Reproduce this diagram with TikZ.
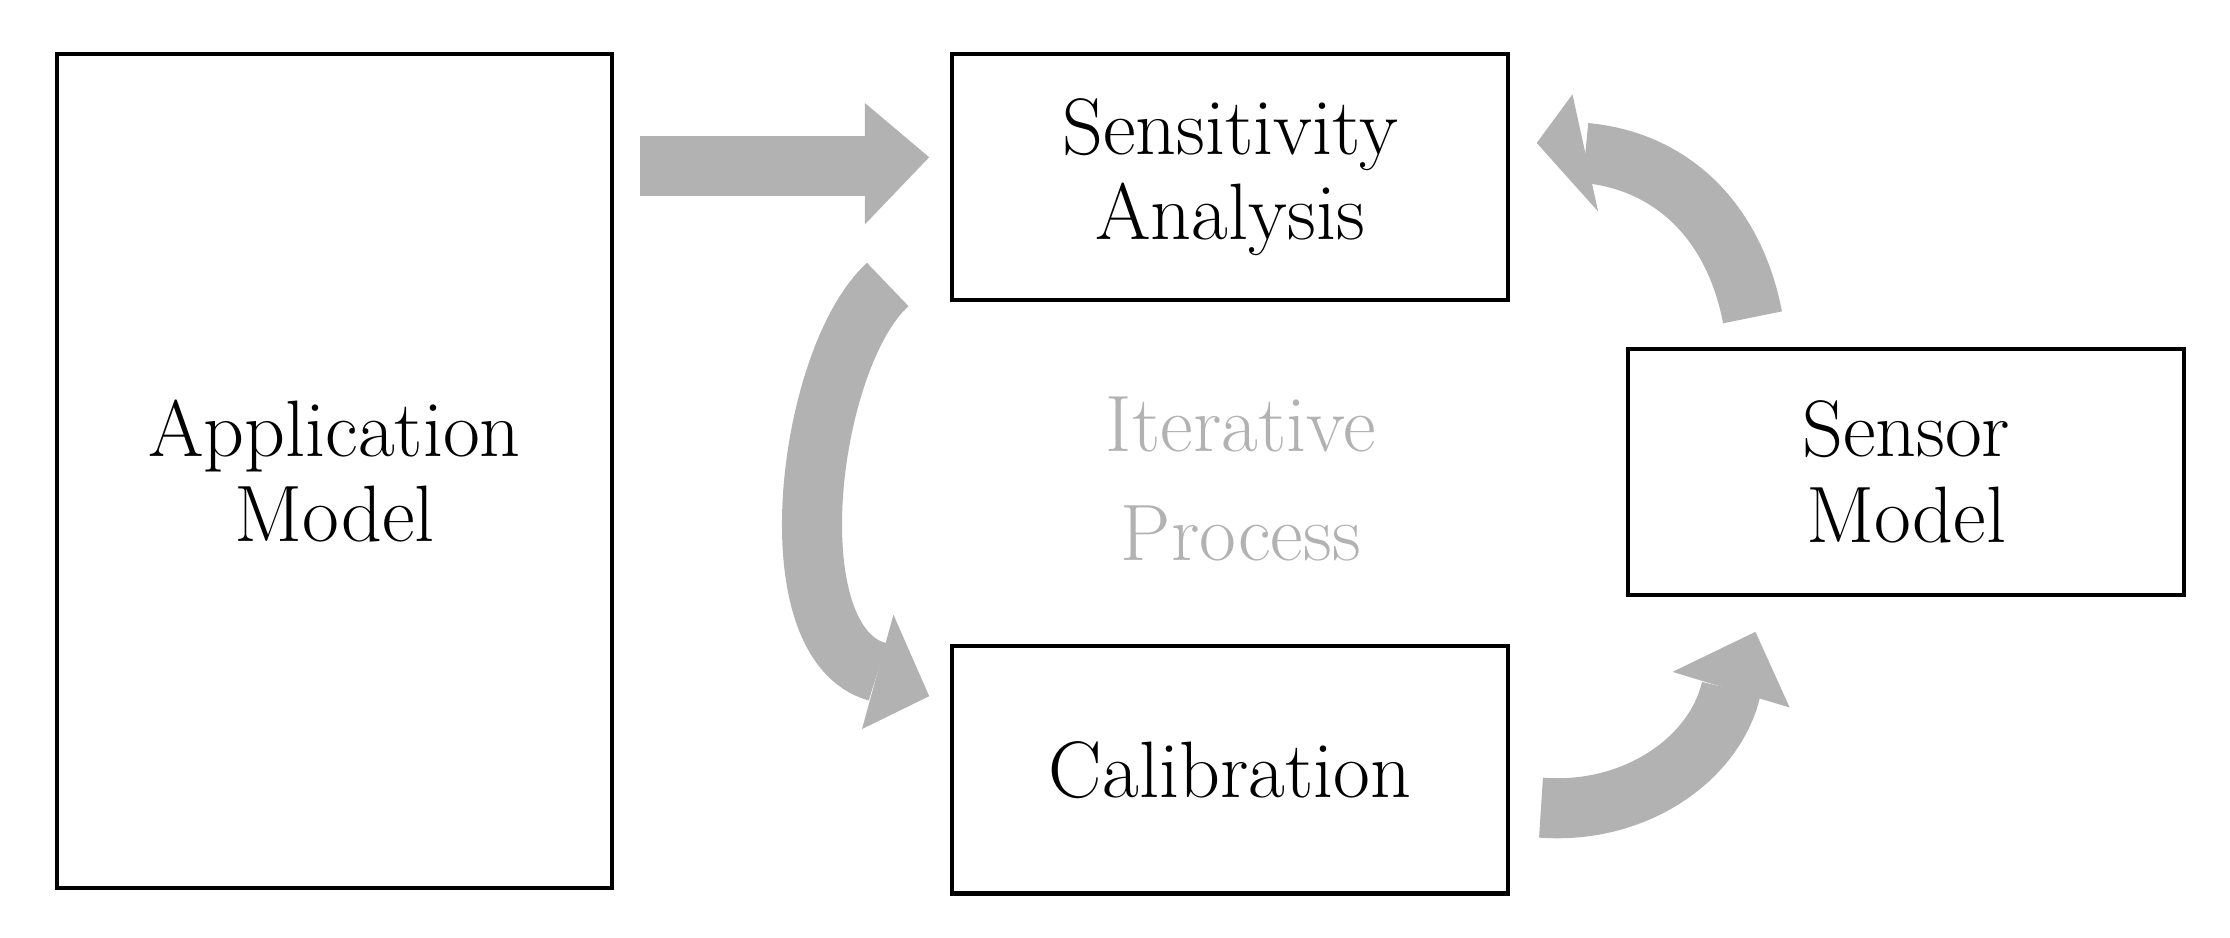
\documentclass[tikz,border=0pt]{standalone}
\begin{document}
\begin{tikzpicture}[x=1pt,y=-1pt,
  box/.style={draw=black,line width=3pt,align=center,font=\fontsize{56}{60}\selectfont},
  txt/.style={align=center,font=\fontsize{56}{76}\selectfont},
  shaft/.style={draw=arrgray,line width=42pt},
  head/.style={fill=arrgray}]
\definecolor{arrgray}{RGB}{178,178,178}
\useasboundingbox (0,0) rectangle (1560,656);
\node[box,minimum width=388pt,minimum height=583pt] (app) at (234,329.5) {Application\\Model};
\node[box,minimum width=389pt,minimum height=172pt] (sens) at (860.5,124) {Sensitivity\\Analysis};
\node[box,minimum width=389pt,minimum height=173pt] (cal) at (860.5,538.5) {Calibration};
\node[box,minimum width=389pt,minimum height=172pt] (sen) at (1333.5,330) {Sensor\\Model};
\node[txt,text=arrgray] (it) at (868,335) {Iterative\\Process};
% straight arrow
\fill[arrgray] (448,95) rectangle (607,137);
\fill[arrgray] (605,72) -- (650,110) -- (605,157) -- cycle;
% left curved
\coordinate (l1) at (621,199);
\coordinate (l2) at (614,470);
\draw[shaft] (l1) .. controls (565,250) and (540,450) .. (l2);
\fill[head] (603,510) -- (650,487) -- (625,430) -- cycle;
% top right
\coordinate (t1) at (1226,222);
\coordinate (t2) at (1109,107);
\draw[shaft] (t1) .. controls (1212,150) and (1165,112) .. (t2);
\fill[head] (1100,66) -- (1075,100) -- (1118,148) -- cycle;
% bottom right
\coordinate (b1) at (1078,565);
\coordinate (b2) at (1211,482);
\draw[shaft] (b1) .. controls (1145,570) and (1200,530) .. (b2);
\fill[head] (1170,470) -- (1228,442) -- (1252,495) -- cycle;
\end{tikzpicture}
\end{document}
